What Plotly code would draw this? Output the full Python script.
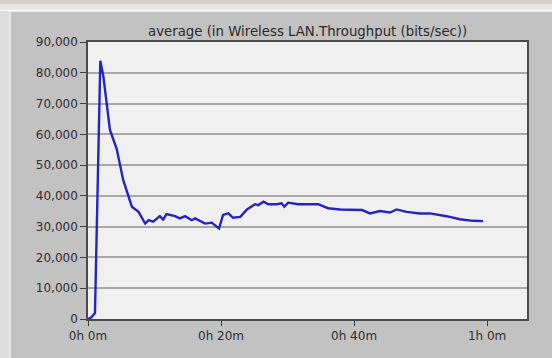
import plotly.graph_objects as go

# Simulation time (minutes) and averaged WLAN throughput (bits/sec)
time_min = [0.0, 0.5, 1.05, 1.85, 2.3, 3.3, 4.3, 5.3, 6.6, 7.6, 8.6, 9.1, 9.8,
            10.8, 11.3, 11.8, 13.1, 13.8, 14.6, 15.6, 16.1, 17.6, 18.6, 19.7,
            20.3, 21.1, 21.8, 22.9, 23.9, 25.1, 25.6, 26.4, 27.1, 28.4, 29.1,
            29.5, 30.1, 31.6, 34.6, 36.1, 37.9, 39.9, 41.2, 42.4, 43.4, 43.9,
            45.4, 46.4, 47.9, 49.9, 51.4, 53.9, 55.9, 57.9, 59.4]
throughput = [0, 550, 1900, 83900, 79000, 61400, 55400, 45100, 36500, 34800,
              31000, 32100, 31600, 33400, 32300, 34100, 33400, 32700, 33400,
              32100, 32700, 31000, 31300, 29400, 33800, 34300, 32900, 33200,
              35600, 37300, 37000, 38100, 37300, 37300, 37600, 36500, 37800,
              37300, 37300, 36000, 35600, 35400, 35400, 34300, 34800, 35100,
              34600, 35600, 34800, 34300, 34300, 33400, 32400, 31900, 31800]

x_tick_vals = [0, 20, 40, 60]
x_tick_text = ["0h 0m", "0h 20m", "0h 40m", "1h 0m"]
y_tick_vals = [0, 10000, 20000, 30000, 40000, 50000, 60000, 70000, 80000, 90000]
y_tick_text = ["0", "10,000", "20,000", "30,000", "40,000", "50,000",
               "60,000", "70,000", "80,000", "90,000"]

title_text = "average (in Wireless LAN.Throughput (bits/sec))"

fig = go.Figure()
fig.add_trace(go.Scatter(
    x=time_min, y=throughput, mode="lines",
    line=dict(color="#2424c2", width=2.4, shape="linear"),
    hoverinfo="skip",
))

panel_gray = "#c2c2c2"
family = "DejaVu Sans, Verdana, sans-serif"
font = dict(family=family, size=12, color="#2e2e2e")

fig.update_layout(
    width=552, height=358,
    margin=dict(l=88, r=25, t=42, b=39),
    paper_bgcolor=panel_gray,
    plot_bgcolor="#f0f0f0",
    showlegend=False,
    font=font,
    annotations=[dict(
        text=title_text, xref="paper", yref="paper", x=0.5, y=1.0,
        xanchor="center", yanchor="bottom", yshift=1, showarrow=False,
        font=dict(family=family, size=13.3, color="#2a2a2a"),
    )],
    shapes=[
        # window frame strips along the top and left edges
        dict(type="rect", xref="paper", yref="paper", x0=-0.3, x1=1.2,
             y0=1.0 + (42 - 12) / 277, y1=1.0 + 42 / 277,
             fillcolor="#e9e6e1", line=dict(width=0), layer="below"),
        dict(type="rect", xref="paper", yref="paper", x0=-0.3, x1=1.2,
             y0=1.0 + (42 - 4) / 277, y1=1.0 + 42 / 277,
             fillcolor="#d6d2ca", line=dict(width=0), layer="below"),
        dict(type="line", xref="paper", yref="paper", x0=-0.3, x1=1.2,
             y0=1.0 + (42 - 10.5) / 277, y1=1.0 + (42 - 10.5) / 277,
             line=dict(color="#f8f8f8", width=1.5), layer="below"),
        dict(type="rect", xref="paper", yref="paper",
             x0=-88 / 439, x1=-(88 - 9) / 439, y0=-0.3, y1=1.0 + (42 - 11) / 277,
             fillcolor="#dedede", line=dict(width=0), layer="below"),
        dict(type="line", xref="paper", yref="paper",
             x0=-(88 - 10) / 439, x1=-(88 - 10) / 439, y0=-0.3, y1=1.0 + (42 - 10.5) / 277,
             line=dict(color="#f4f4f4", width=1.5), layer="below"),
    ],
)

fig.update_xaxes(
    range=[0, 66], tickmode="array", tickvals=x_tick_vals, ticktext=x_tick_text,
    ticks="outside", ticklen=5, tickwidth=1, tickcolor="#404040",
    showgrid=False, zeroline=False,
    showline=True, linecolor="#4a4a4a", linewidth=1.5, mirror=True,
    tickfont=dict(family=family, size=12, color="#2e2e2e"), fixedrange=True,
)
fig.update_yaxes(
    range=[0, 90000], tickmode="array", tickvals=y_tick_vals, ticktext=y_tick_text,
    ticks="outside", ticklen=6, tickwidth=1, tickcolor="#404040",
    showgrid=True, gridcolor="#a8a8a8", gridwidth=1.5, zeroline=False,
    showline=True, linecolor="#4a4a4a", linewidth=1.5, mirror=True,
    tickfont=dict(family=family, size=12, color="#2e2e2e"),
    fixedrange=True,
)

fig.write_html("out.html")
